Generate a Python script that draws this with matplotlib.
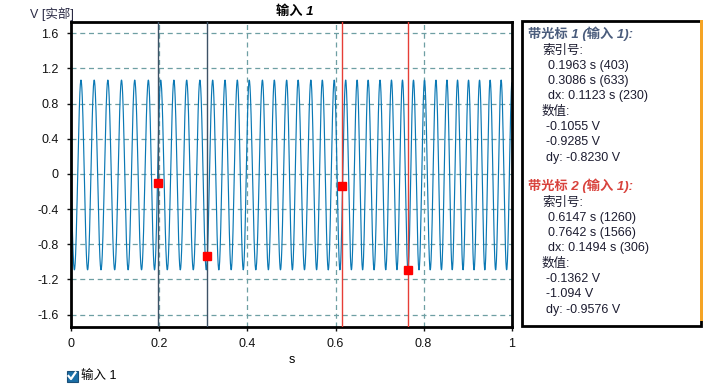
import numpy as np
import matplotlib.pyplot as plt
from matplotlib.patches import Rectangle
from matplotlib.lines import Line2D

plt.rcParams['font.family'] = ['Liberation Sans', 'Noto Sans CJK SC', 'DejaVu Sans']

# ── data ──────────────────────────────────────────────────────────────────────

SAMPLE_RATE = 2048
# times (s) of the waveform crests
PEAK_TIMES = [0.022, 0.052, 0.083, 0.114, 0.144, 0.175, 0.203, 0.233, 0.262,
              0.292, 0.321, 0.349, 0.377, 0.404, 0.434, 0.461, 0.489, 0.515,
              0.544, 0.570, 0.597, 0.623, 0.649, 0.674, 0.701, 0.727, 0.752,
              0.777, 0.802, 0.828, 0.853, 0.877, 0.902, 0.927, 0.951, 0.976]
PEAK_LEVEL   = 1.068
TROUGH_LEVEL = -1.092

CURSOR1_T   = [0.1963, 0.3086]
CURSOR1_IDX = [403, 633]
CURSOR1_V   = [-0.1055, -0.9285]
CURSOR1_DX  = (0.1123, 230)
CURSOR1_DY  = -0.8230

CURSOR2_T   = [0.6147, 0.7642]
CURSOR2_IDX = [1260, 1566]
CURSOR2_V   = [-0.1362, -1.094]
CURSOR2_DX  = (0.1494, 306)
CURSOR2_DY  = -0.9576

X_TICKS = [0, 0.2, 0.4, 0.6, 0.8, 1]
Y_TICKS = [1.6, 1.2, 0.8, 0.4, 0, -0.4, -0.8, -1.2, -1.6]

# ── waveform through the crests ───────────────────────────────────────────────

pk = np.array(PEAK_TIMES)
pk = np.concatenate([[pk[0] - (pk[1] - pk[0])], pk, [pk[-1] + (pk[-1] - pk[-2])]])
t = np.arange(SAMPLE_RATE + 1) / SAMPLE_RATE
phase = np.interp(t, pk, 2 * np.pi * np.arange(len(pk)))
mid = (PEAK_LEVEL + TROUGH_LEVEL) / 2
amp = (PEAK_LEVEL - TROUGH_LEVEL) / 2
v = mid + amp * np.cos(phase)

# ── figure ────────────────────────────────────────────────────────────────────

W, H = 717, 392
fig = plt.figure(figsize=(W / 100, H / 100), dpi=100)

def fx(px):
    return px / W

def fy(py):
    return 1 - py / H

ax = fig.add_axes([fx(71.3), fy(327), fx(511.7 - 71.3), (327 - 21.7) / H])

ax.plot(t, v, color='#0a78b4', lw=0.85, zorder=2)

GRID_C = '#6e9fa3'
for xv in X_TICKS[1:-1]:
    ax.axvline(xv, color=GRID_C, lw=0.9, ls=(0, (4, 3)), zorder=1)
for yv in Y_TICKS:
    ax.axhline(yv, color=GRID_C, lw=0.9, ls=(0, (4, 3)), zorder=1)

for xc in CURSOR1_T:
    ax.axvline(xc, color='#3e5266', lw=1.0, zorder=3)
for xc in CURSOR2_T:
    ax.axvline(xc, color='#e63e36', lw=1.0, zorder=3)
ax.plot(CURSOR1_T + CURSOR2_T, CURSOR1_V + CURSOR2_V, 's', color='#ff0000',
        ms=5.5, mec='#ff0000', zorder=4, ls='none')

ax.set_xlim(0, 1)
ax.set_ylim(-1.742, 1.732)
ax.set_xticks(X_TICKS)
ax.set_xticklabels(['0', '0.2', '0.4', '0.6', '0.8', '1'])
ax.set_yticks(Y_TICKS)
ax.set_yticklabels(['1.6', '1.2', '0.8', '0.4', '0', '-0.4', '-0.8', '-1.2', '-1.6'])
ax.tick_params(labelsize=9, length=3, width=1, colors='#111111', pad=5)
ax.tick_params(axis='y', pad=6)
for s in ax.spines.values():
    s.set_linewidth(2)
    s.set_color('black')

ax.set_xlabel('s', fontsize=9, labelpad=3)
fig.text(fx(295), fy(12), '输入 1', fontsize=9.5, fontweight='bold', style='italic',
         ha='center', va='center')
fig.text(fx(30), fy(14), 'V [实部]', fontsize=9, color='#2a2a44', ha='left', va='center')

# legend checkbox
fig.patches.append(Rectangle((fx(66.5), fy(381.5)), fx(11), 11 / H, transform=fig.transFigure,
                             facecolor='#1a6ea6', edgecolor='#1a4f78', lw=0.8))
fig.lines.append(Line2D([fx(68.5), fx(71), fx(75.5)], [fy(376), fy(379), fy(372.5)],
                        transform=fig.transFigure, color='white', lw=1.6))
fig.text(fx(81), fy(376), '输入 1', fontsize=9, ha='left', va='center')

# ── cursor panel ──────────────────────────────────────────────────────────────

fig.patches.append(Rectangle((fx(521.5), fy(325.5)), fx(701 - 521.5), (325.5 - 21) / H,
                             transform=fig.transFigure, facecolor='white',
                             edgecolor='black', lw=2))
fig.patches.append(Rectangle((fx(699.5), fy(321)), fx(3.5), (321 - 20) / H,
                             transform=fig.transFigure, facecolor='#f5a425',
                             edgecolor='none'))

TXT_C = '#1c1c30'

def panel(y0, title, color, ts, idx, vals, dx, dy):
    fig.text(fx(528), fy(y0), title, fontsize=9.5, fontweight='bold', style='italic',
             color=color, ha='left', va='center')
    rows = [(542, '索引号:'),
            (548, f'{ts[0]:.4f} s ({idx[0]})'),
            (548, f'{ts[1]:.4f} s ({idx[1]})'),
            (548, f'dx: {dx[0]:.4f} s ({dx[1]})'),
            (542, '数值:'),
            (546, f'{vals[0]:#.4g} V'),
            (546, f'{vals[1]:#.4g} V'),
            (546, f'dy: {dy:#.4g} V')]
    for k, (x, s) in enumerate(rows):
        fig.text(fx(x), fy(y0 + 16.5 + 15.3 * k), s, fontsize=9, color=TXT_C,
                 ha='left', va='center')

panel(34, '带光标 1 (输入 1):', '#4a5c7c', CURSOR1_T, CURSOR1_IDX, CURSOR1_V,
      CURSOR1_DX, CURSOR1_DY)
panel(186, '带光标 2 (输入 1):', '#d8423c', CURSOR2_T, CURSOR2_IDX, CURSOR2_V,
      CURSOR2_DX, CURSOR2_DY)

fig.savefig('out.png', dpi=100)
